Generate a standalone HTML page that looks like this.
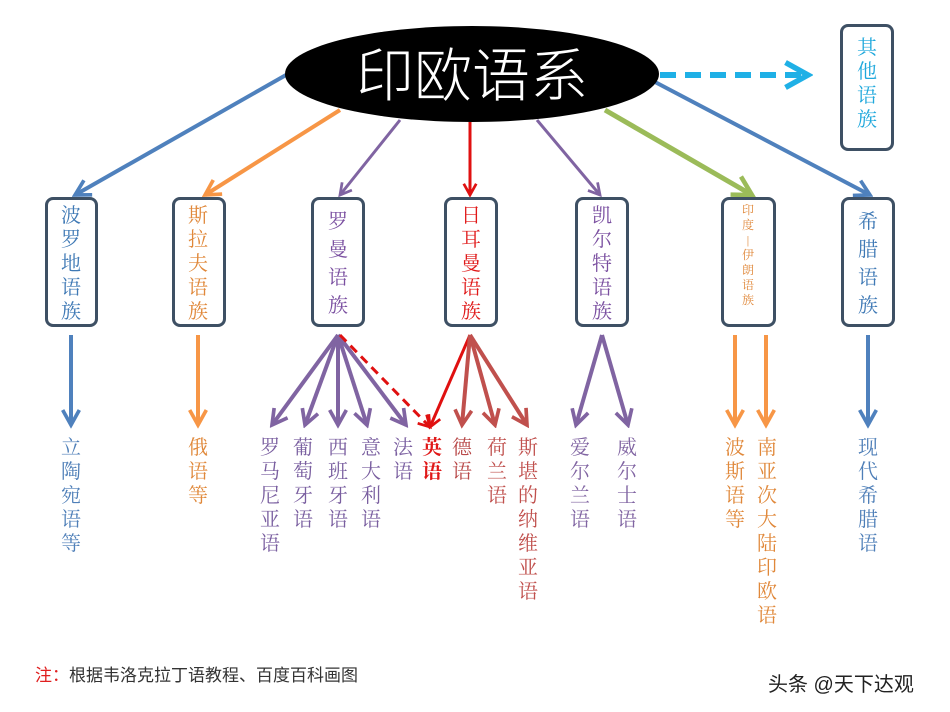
<!DOCTYPE html>
<html><head><meta charset="utf-8"><style>
body{margin:0;background:#fff;}
#c{position:relative;width:950px;height:712px;overflow:hidden;font-family:"Liberation Serif","Noto Serif CJK SC",serif;}
.v{position:absolute;width:22px;font-size:20px;line-height:24px;text-align:center;word-break:break-all;}
.b{position:absolute;border:3px solid #3e5064;border-radius:8px;box-sizing:border-box;background:#fff;}
</style></head><body><div id="c">
<svg width="950" height="712" style="position:absolute;left:0;top:0">
<defs>
<marker id="m" viewBox="0 0 12 12" refX="10" refY="6" markerWidth="5" markerHeight="5" orient="auto" markerUnits="strokeWidth"><path d="M1,1 L10,6 L1,11" fill="none" stroke="context-stroke" stroke-width="2.2"/></marker>
</defs>
<g fill="none" stroke-width="4" marker-end="url(#m)">
<line x1="286" y1="75" x2="75" y2="195" stroke="#4f81bd"/>
<line x1="340" y1="110" x2="205" y2="195" stroke="#f79646"/>
<line x1="400" y1="120" x2="340" y2="195" stroke="#8064a2" stroke-width="3"/>
<line x1="470" y1="122" x2="470" y2="195" stroke="#e01010" stroke-width="3"/>
<line x1="537" y1="120" x2="600" y2="195" stroke="#8064a2" stroke-width="3"/>
<line x1="605" y1="110" x2="752" y2="195" stroke="#9bbb59" stroke-width="5"/>
<line x1="655" y1="82" x2="870" y2="195" stroke="#4f81bd"/>
<line x1="71" y1="335" x2="71" y2="425" stroke="#4f81bd"/>
<line x1="198" y1="335" x2="198" y2="425" stroke="#f79646"/>
<g stroke="#8064a2">
<line x1="338" y1="335" x2="272" y2="425"/>
<line x1="338" y1="335" x2="305" y2="425"/>
<line x1="338" y1="335" x2="338" y2="425"/>
<line x1="338" y1="335" x2="367" y2="425"/>
<line x1="338" y1="335" x2="406" y2="425"/>
<line x1="602" y1="335" x2="576" y2="425"/>
<line x1="602" y1="335" x2="628" y2="425"/>
</g>
<line x1="340" y1="335" x2="430" y2="427" stroke="#e01010" stroke-width="3" stroke-dasharray="9,6"/>
<line x1="470" y1="335" x2="430" y2="427" stroke="#e01010" stroke-width="3"/>
<g stroke="#c0504d">
<line x1="470" y1="335" x2="462" y2="425"/>
<line x1="470" y1="335" x2="495" y2="425"/>
<line x1="470" y1="335" x2="527" y2="425"/>
</g>
<line x1="735" y1="335" x2="735" y2="425" stroke="#f79646"/>
<line x1="766" y1="335" x2="766" y2="425" stroke="#f79646"/>
<line x1="868" y1="335" x2="868" y2="425" stroke="#4f81bd"/>
<line x1="660" y1="75" x2="808" y2="75" stroke="#1fb0e6" stroke-width="6" stroke-dasharray="16,9"/>
</g>
<ellipse cx="472" cy="74" rx="187" ry="48" fill="#000"/>
<text x="472" y="96" fill="#fff" font-size="58" text-anchor="middle" font-family="Noto Sans CJK SC,sans-serif" font-weight="300">印欧语系</text>
</svg>
<div class="b" style="left:840px;top:24px;width:54px;height:127px"></div>
<div class="v" style="left:856px;top:36px;color:#1fa8dc">其他语族</div>
<div class="b" style="left:45px;top:197px;width:53px;height:130px"></div>
<div class="v" style="left:60px;top:204px;color:#3f79b5">波罗地语族</div>
<div class="b" style="left:172px;top:197px;width:54px;height:130px"></div>
<div class="v" style="left:187px;top:204px;color:#e0883a">斯拉夫语族</div>
<div class="b" style="left:311px;top:197px;width:54px;height:130px"></div>
<div class="v" style="left:327px;top:208px;color:#7a4fa0;line-height:28px">罗曼语族</div>
<div class="b" style="left:444px;top:197px;width:54px;height:130px"></div>
<div class="v" style="left:460px;top:204px;color:#e01818">日耳曼语族</div>
<div class="b" style="left:575px;top:197px;width:54px;height:130px"></div>
<div class="v" style="left:591px;top:204px;color:#7a4fa0">凯尔特语族</div>
<div class="b" style="left:721px;top:197px;width:55px;height:130px"></div>
<div class="v" style="left:739px;top:203px;color:#e0883a;font-size:12px;line-height:15px;width:18px">印<br>度<br>|<br>伊<br>朗<br>语<br>族</div>
<div class="b" style="left:841px;top:197px;width:54px;height:130px"></div>
<div class="v" style="left:857px;top:208px;color:#3f79b5;line-height:28px">希腊语族</div>

<div class="v" style="left:60px;top:436px;color:#4f7fb8">立陶宛语等</div>
<div class="v" style="left:187px;top:436px;color:#e0883a">俄语等</div>
<div class="v" style="left:259px;top:436px;color:#7a5fa0">罗马尼亚语</div>
<div class="v" style="left:292px;top:436px;color:#7a5fa0">葡萄牙语</div>
<div class="v" style="left:327px;top:436px;color:#7a5fa0">西班牙语</div>
<div class="v" style="left:360px;top:436px;color:#7a5fa0">意大利语</div>
<div class="v" style="left:392px;top:436px;color:#7a5fa0">法语</div>
<div class="v" style="left:421px;top:436px;color:#e01818;font-weight:bold">英语</div>
<div class="v" style="left:451px;top:436px;color:#b84848">德语</div>
<div class="v" style="left:486px;top:436px;color:#c0504d">荷兰语</div>
<div class="v" style="left:517px;top:436px;color:#c0504d">斯堪的纳维亚语</div>
<div class="v" style="left:569px;top:436px;color:#8064a2">爱尔兰语</div>
<div class="v" style="left:616px;top:436px;color:#8064a2">威尔士语</div>
<div class="v" style="left:724px;top:436px;color:#e0883a">波斯语等</div>
<div class="v" style="left:756px;top:436px;color:#e0883a">南亚次大陆印欧语</div>
<div class="v" style="left:857px;top:436px;color:#4f7fb8">现代希腊语</div>

<div style="position:absolute;left:35px;top:661px;font-size:17px;color:#333;font-family:'Liberation Sans','Noto Sans CJK SC',sans-serif"><span style="color:#e02020">注：</span>根据韦洛克拉丁语教程、百度百科画图</div>
<div style="position:absolute;left:768px;top:668px;font-size:20px;color:#222;font-family:'Liberation Sans','Noto Sans CJK SC',sans-serif">头条 @天下达观</div>
</div></body></html>
